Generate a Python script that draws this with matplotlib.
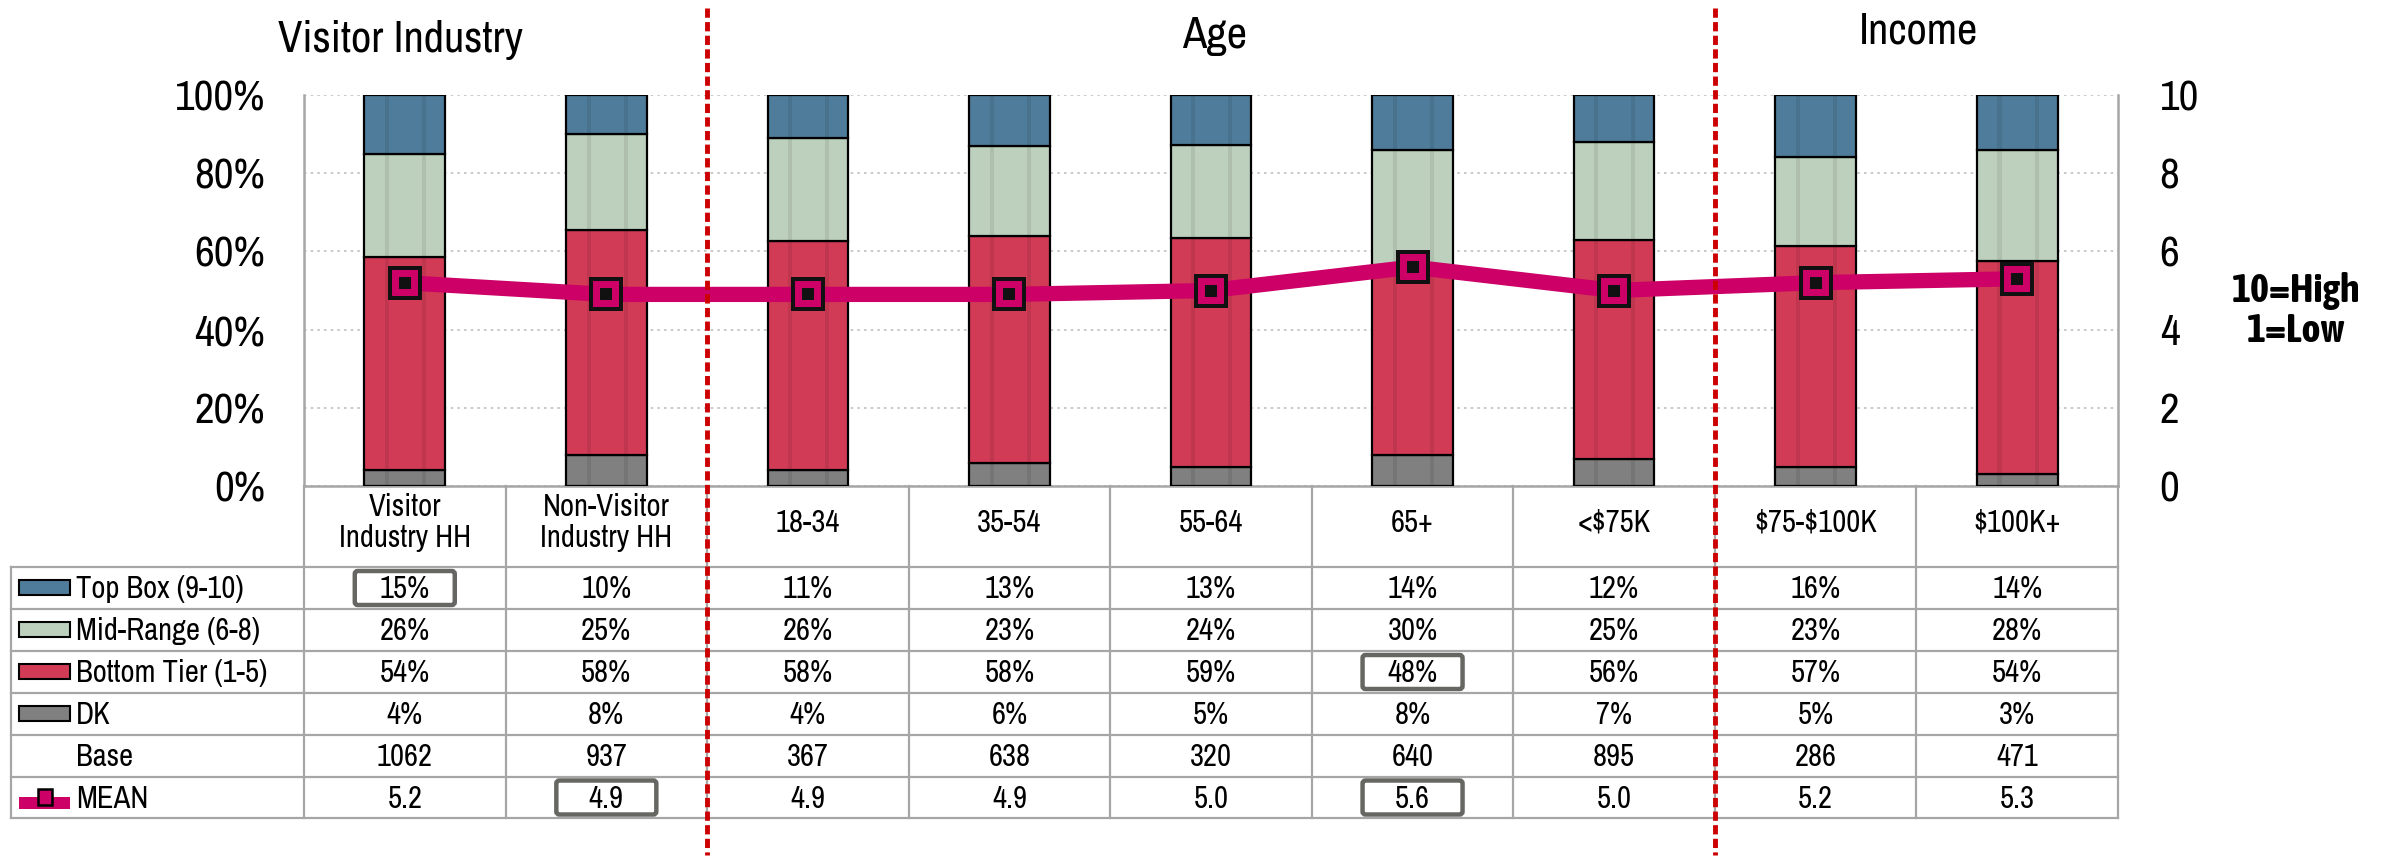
import numpy as np
import matplotlib.pyplot as plt
from matplotlib.patches import Rectangle, FancyBboxPatch

# data
categories = ['Visitor\nIndustry HH', 'Non-Visitor\nIndustry HH', '18-34', '35-54',
              '55-64', '65+', '<$75K', '$75-$100K', '$100K+']
top_box = [15, 10, 11, 13, 13, 14, 12, 16, 14]
mid_range = [26, 25, 26, 23, 24, 30, 25, 23, 28]
bottom_tier = [54, 58, 58, 58, 59, 48, 56, 57, 54]
dk = [4, 8, 4, 6, 5, 8, 7, 5, 3]
base = [1062, 937, 367, 638, 320, 640, 895, 286, 471]
mean = [5.2, 4.9, 4.9, 4.9, 5.0, 5.6, 5.0, 5.2, 5.3]

series_names = ['Top Box (9-10)', 'Mid-Range (6-8)', 'Bottom Tier (1-5)', 'DK']
group_titles = ['Visitor Industry', 'Age', 'Income']
group_breaks = [2, 7]          # dashed separators before these columns
highlights = [(0, 0), (5, 1), (2, 5), (5, 5)]   # (table row, column)

C_TOP = '#4F7C9B'
C_MID = '#BDD0BD'
C_BOT = '#D13B55'
C_DK = '#808080'
C_MEAN = '#CC0066'
GRID = '#A6A6A6'

plt.rcParams['font.family'] = ['Archivo Narrow', 'Liberation Sans Narrow', 'DejaVu Sans']
BOLD_FONT = ['Asap Condensed', 'Archivo Narrow', 'DejaVu Sans']

W, H = 2394, 861
fig = plt.figure(figsize=(W / 100, H / 100), dpi=100)

# plot area in pixels (from top-left)
PL, PR, PT, PB = 304, 2118, 95, 486
ax = fig.add_axes([PL / W, 1 - PB / H, (PR - PL) / W, (PB - PT) / H])
ax.patch.set_alpha(0)

x = np.arange(len(categories))
tot = np.array(top_box) + np.array(mid_range) + np.array(bottom_tier) + np.array(dk)
stack = [(dk, C_DK), (bottom_tier, C_BOT), (mid_range, C_MID), (top_box, C_TOP)]
bw = 0.4
bottom = np.zeros(len(x))
for vals, col in stack:
    share = np.array(vals) / tot * 100
    ax.bar(x, share, bw, bottom=bottom, color=col, edgecolor='black', linewidth=1.6, zorder=3)
    bottom += share

# faint vertical shading bands on the bars
for off in (-0.22 * bw, 0.24 * bw):
    ax.bar(x + off, bottom, bw * 0.05, color='black', alpha=0.08, linewidth=0, zorder=4)

ax.set_xlim(-0.5, len(x) - 0.5)
ax.set_ylim(0, 100)
ax.set_yticks(range(0, 101, 20))
ax.set_yticklabels([f'{v}%' for v in range(0, 101, 20)])
ax.tick_params(axis='y', length=0, pad=28, labelsize=31)
ax.set_xticks([])
ax.yaxis.grid(True, color='#BFBFBF', linestyle=(0, (1.5, 2.5)), linewidth=1.2, zorder=0)
ax.set_axisbelow(True)
for s in ('left', 'right', 'bottom'):
    ax.spines[s].set_color(GRID)
    ax.spines[s].set_linewidth(1.8)
ax.spines['top'].set_visible(False)

ax2 = ax.twinx()
ax2.set_ylim(0, 10)
ax2.set_yticks(range(0, 11, 2))
ax2.tick_params(axis='y', length=0, pad=30, labelsize=31)
for s in ax2.spines.values():
    s.set_visible(False)
ax2.plot(x, mean, color=C_MEAN, linewidth=11, zorder=5, solid_capstyle='butt')
ax2.plot(x, mean, linestyle='none', marker='s', markersize=25, markerfacecolor='#111111',
         markeredgewidth=0, zorder=6)
ax2.plot(x, mean, linestyle='none', marker='s', markersize=19, markerfacecolor=C_MEAN,
         markeredgewidth=0, zorder=7)
ax2.plot(x, mean, linestyle='none', marker='s', markersize=9, markerfacecolor='#111111',
         markeredgewidth=0, zorder=8)

# overlay in pixel coordinates for table, titles and separators
ov = fig.add_axes([0, 0, 1, 1])
ov.set_xlim(0, W)
ov.set_ylim(H, 0)
ov.axis('off')

cx = [ax.transData.transform((i, 0))[0] for i in x]
edges = [ax.transData.transform((i - 0.5, 0))[0] for i in range(len(x) + 1)]

TL = 11
hdr_top, hdr_bot = PB, 567
row_edges = [567, 609, 651, 693, 735, 777, 818]
row_mid = [(a + b) / 2 for a, b in zip(row_edges[:-1], row_edges[1:])]

# grid lines
for yy in row_edges:
    ov.plot([TL, PR], [yy, yy], color=GRID, lw=1.6, zorder=1)
ov.plot([TL, TL], [row_edges[0], row_edges[-1]], color=GRID, lw=1.6, zorder=1)
for xx in edges:
    ov.plot([xx, xx], [hdr_top, row_edges[-1]], color=GRID, lw=1.6, zorder=1)

# header labels
for xc, lab in zip(cx, categories):
    ov.text(xc, (hdr_top + hdr_bot) / 2 - 4, lab, ha='center', va='center', fontsize=22,
            linespacing=1.15, parse_math=False)

# table values
rows = [[f'{v}%' for v in top_box], [f'{v}%' for v in mid_range],
        [f'{v}%' for v in bottom_tier], [f'{v}%' for v in dk],
        [str(v) for v in base], [f'{v:.1f}' for v in mean]]
for r, vals in enumerate(rows):
    for xc, t in zip(cx, vals):
        ov.text(xc, row_mid[r] + 1, t, ha='center', va='center', fontsize=22)

# legend column
for r, (name, col) in enumerate(zip(series_names, [C_TOP, C_MID, C_BOT, C_DK])):
    ov.add_patch(Rectangle((19, row_mid[r] - 8), 51, 15, facecolor=col, edgecolor='black', lw=1.5))
    ov.text(76, row_mid[r] + 1, name, ha='left', va='center', fontsize=22)
ov.text(76, row_mid[4] + 1, 'Base', ha='left', va='center', fontsize=22)
ov.add_patch(Rectangle((19, row_mid[5] - 1), 51, 12, facecolor=C_MEAN, edgecolor='none'))
ov.add_patch(Rectangle((38, row_mid[5] - 9), 14, 16, facecolor=C_MEAN, edgecolor='black', lw=1.8))
ov.text(76, row_mid[5] + 1, 'MEAN', ha='left', va='center', fontsize=22)

# highlight boxes
for r, c in highlights:
    ov.add_patch(FancyBboxPatch((cx[c] - 50, row_mid[r] - 17), 100, 34,
                                boxstyle='round,pad=0,rounding_size=3',
                                facecolor='none', edgecolor='#666662', lw=3.2, zorder=3))

# dashed group separators
for b in group_breaks:
    ov.plot([edges[b], edges[b]], [8, 855], color='#CC0000', lw=3.5,
            linestyle=(0, (1.9, 0.9)), zorder=4)

# group titles
for (tx, ty), t in zip([(400, 52), (1215, 48), (1919, 43)], group_titles):
    ov.text(tx, ty, t, ha='center', va='baseline', fontsize=32)

ov.text(2296, 311, '10=High\n1=Low', ha='center', va='center', fontsize=29,
        fontweight='bold', family=BOLD_FONT, linespacing=1.1)

fig.savefig('out.png', dpi=100)
